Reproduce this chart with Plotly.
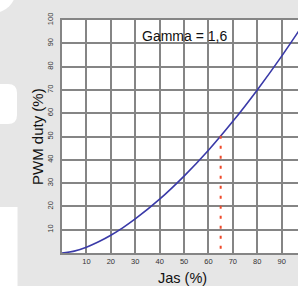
import plotly.graph_objects as go

# Data
jas = [0, 5, 10, 15, 20, 25, 30, 40, 50, 60, 70, 80, 90, 100]
pwm = [0, 0.8, 2.5, 4.8, 7.6, 10.9, 14.6, 23.1, 33.0, 44.1, 56.5, 70.0, 84.5, 100]
marker_x = [65, 65]
marker_y = [50.3, 0]
x_ticks = [10, 20, 30, 40, 50, 60, 70, 80, 90]
y_ticks = [10, 20, 30, 40, 50, 60, 70, 80, 90, 100]
gamma_label = "Gamma = 1,6"
x_title = "Jas (%)"
y_title = "PWM duty (%)"

W, H = 298, 286
ML, MR, MT, MB = 62, 0, 20, 33
PW, PH = W - ML - MR, H - MT - MB
PX_PER_UNIT = 2.441

FONT = "Liberation Sans, Arial, sans-serif"
GRID = "#858585"
BG = "#e6e6e6"

def px(x):
    return (x - ML) / PW

def py(y):
    return (H - MB - y) / PH

fig = go.Figure()
fig.add_trace(go.Scatter(x=jas, y=pwm, mode="lines", line=dict(color="#3a3aa8", width=1.6, shape="spline"),
                         hoverinfo="skip", showlegend=False))
fig.add_trace(go.Scatter(x=marker_x, y=marker_y, mode="lines",
                         line=dict(color="#ee4a2a", width=2, dash="3px,7px"),
                         hoverinfo="skip", showlegend=False))

fig.add_annotation(x=50, y=93, xref="x", yref="y", text=gamma_label, showarrow=False,
                   xanchor="center", yanchor="middle",
                   font=dict(family=FONT, size=14, color="#111"))
fig.add_annotation(x=px(182), y=py(278), xref="paper", yref="paper", text=x_title, showarrow=False,
                   xanchor="center", yanchor="middle",
                   font=dict(family=FONT, size=14.5, color="#111"))
fig.add_annotation(x=px(37), y=py(137), xref="paper", yref="paper", text=y_title, showarrow=False,
                   xanchor="center", yanchor="middle",
                   textangle=-90, font=dict(family=FONT, size=15, color="#111"))

# decorative white background shapes at the left edge
shapes = [
    dict(type="circle", xref="paper", yref="paper", x0=px(-30), x1=px(16), y0=py(13), y1=py(-33),
         fillcolor="white", line=dict(width=0), layer="below"),
    dict(type="path", xref="paper", yref="paper", layer="below", fillcolor="white", line=dict(width=0),
         path=f"M {px(0)} {py(84)} L {px(8)} {py(84)} Q {px(17)} {py(84)} {px(17)} {py(93)} "
              f"L {px(17)} {py(115)} Q {px(17)} {py(124)} {px(8)} {py(124)} L {px(0)} {py(124)} Z"),
    dict(type="rect", xref="paper", yref="paper", x0=px(0), x1=px(17.5), y0=py(207), y1=py(286),
         fillcolor="white", line=dict(width=0), layer="below"),
]

fig.update_layout(
    width=W, height=H,
    margin=dict(l=ML, r=MR, t=MT, b=MB, pad=0),
    paper_bgcolor=BG, plot_bgcolor="white",
    shapes=shapes,
    xaxis=dict(range=[0, PW / PX_PER_UNIT], tickvals=x_ticks, showgrid=True, gridcolor=GRID, gridwidth=1.5,
               zeroline=False, showline=True, linecolor=GRID, linewidth=1.5, mirror=True,
               ticks="", tickfont=dict(family=FONT, size=7.5, color="#333"), fixedrange=True),
    yaxis=dict(range=[0, 100], tickvals=y_ticks, showgrid=True, gridcolor=GRID, gridwidth=1.5,
               zeroline=False, showline=True, linecolor=GRID, linewidth=1.5, mirror=False,
               ticks="", tickangle=-90, ticklabelstandoff=4,
               tickfont=dict(family=FONT, size=7.5, color="#333"), fixedrange=True),
    showlegend=False,
)

fig.write_html("out.html", config={"displayModeBar": False},
               post_script="document.body.style.margin='0';document.body.style.overflow='hidden';")
